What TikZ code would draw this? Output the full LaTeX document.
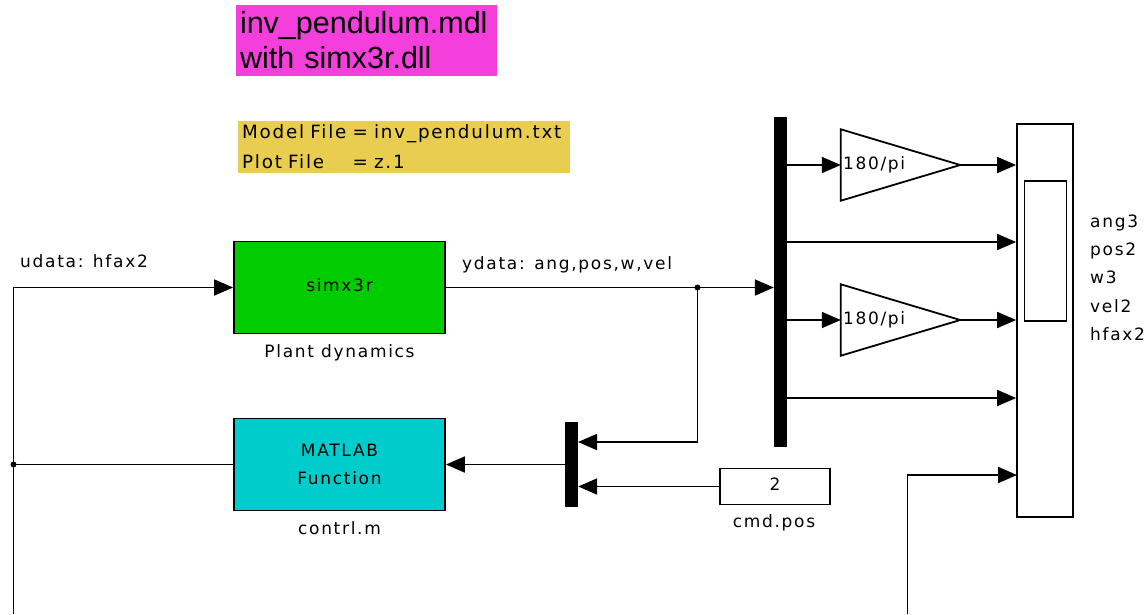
\documentclass[tikz,border=0pt]{standalone}
\usepackage{fontspec}
\usepackage{calc}
\usetikzlibrary{arrows.meta,calc}
\newfontfamily\blockfont{DejaVu Sans}[LetterSpace=10]
\newfontfamily\notefont{Liberation Sans}
\definecolor{notemagenta}{HTML}{F43FDD}
\definecolor{noteyellow}{HTML}{E8CD50}
\definecolor{plantgreen}{HTML}{00CC00}
\definecolor{fcncyan}{HTML}{00CCCC}
\begin{document}
\begin{tikzpicture}[x=1pt,y=-1pt,
  lbl/.style={font=\blockfont\fontsize{17}{21}\selectfont, inner sep=0pt, text height=12pt, text depth=3.5pt},
  block/.style={draw, line width=1.8pt, minimum width=211pt, minimum height=92pt, lbl},
  bar/.style={fill=black, minimum width=13pt, inner sep=0pt},
  dot/.style={circle, fill=black, inner sep=0pt, minimum size=6pt},
  wire/.style={line width=1.8pt},
  arr/.style={line width=1.8pt, -{Triangle[length=19pt,width=16pt]}}]
\useasboundingbox (0,0) rectangle (1147,614);

% annotation boxes
\node[fill=notemagenta, minimum width=261pt, minimum height=71pt, text width=253pt,
      align=left, inner sep=4pt, font=\notefont\fontsize{30.5}{35}\selectfont]
      (title) at (366.5,40.5) {inv\_pendulum.mdl\\with simx3r.dll};
\node[fill=noteyellow, minimum width=332pt, minimum height=52pt, text width=324pt,
      align=left, inner sep=4pt, font=\blockfont\fontsize{18.3}{30}\selectfont]
      (files) at (404,147) {Model File = inv\_pendulum.txt\\\makebox[\widthof{Model File\ }][l]{Plot File}= z.1};

% plant and controller
\node[block, fill=plantgreen] (plant) at (339.5,287.5) {simx3r};
\node[lbl] (plantname) at (339.5,353) {Plant dynamics};
\node[block, fill=fcncyan, align=center, font=\blockfont\fontsize{17}{28}\selectfont,
      text height=, text depth=] (fcn) at (339.5,464.5) {MATLAB\\Function};
\node[lbl] (fcnname) at (339.5,530) {contrl.m};

% mux, demux, constant
\node[bar, minimum height=85pt] (mux) at (571.5,464.5) {};
\node[bar, minimum height=330pt] (demux) at (780.5,282) {};
\node[draw, line width=1.8pt, minimum width=110pt, minimum height=36pt, lbl] (cmd) at (775,486.5) {2};
\node[lbl] (cmdname) at (774,523) {cmd.pos};

% gains
\node[minimum width=119pt, minimum height=71pt, inner sep=0pt] (g1) at (900.5,165) {};
\node[minimum width=119pt, minimum height=71pt, inner sep=0pt] (g2) at (900.5,320) {};
\foreach \g in {g1,g2}{
  \draw[wire, line join=miter] (\g.north west) -- (\g.east) -- (\g.south west) -- cycle;
  \node[lbl, anchor=west] at ($(\g.west)+(2,0)$) {180/pi};
}

% scope
\node[draw, line width=1.8pt, minimum width=56pt, minimum height=393pt, inner sep=0pt] (scope) at (1045,320.5) {};
\node[draw, line width=1.8pt, minimum width=42pt, minimum height=140pt, inner sep=0pt] (screen) at (1045.5,251) {};
\node[lbl, anchor=west] (s1) at (1090,223) {ang3};
\node[lbl, anchor=west] (s2) at (1090,251) {pos2};
\node[lbl, anchor=west] (s3) at (1090,279) {w3};
\node[lbl, anchor=west] (s4) at (1090,308) {vel2};
\node[lbl, anchor=west] (s5) at (1090,336) {hfax2};

% signal lines
\coordinate (ubot) at (13.5,614);
\draw[arr] (ubot) |- (plant.west);
\node[lbl, anchor=west] (ulabel) at (20,263) {udata: hfax2};
\node[dot] (j1) at (ubot |- fcn.west) {};
\draw[wire] (j1.center) -- (fcn.west);

\draw[arr] (plant.east) -- (plant.east -| demux.west);
\node[lbl, anchor=west] (ylabel) at (462,265) {ydata: ang,pos,w,vel};
\node[dot] (j2) at (697.5,287.5) {};
\coordinate (muxin1) at (578,442);
\draw[arr] (j2.center) |- (muxin1);
\draw[arr] (cmd.west) -- (cmd.west -| mux.east);
\draw[arr] (mux.west) -- (fcn.east);

\draw[arr] (g1.west -| demux.east) -- (g1.west);
\draw[arr] (g2.west -| demux.east) -- (g2.west);
\draw[arr] (g1.east) -- (g1.east -| scope.west);
\draw[arr] (g2.east) -- (g2.east -| scope.west);
\coordinate (d2) at (787,242);
\coordinate (d4) at (787,398);
\draw[arr] (d2) -- (d2 -| scope.west);
\draw[arr] (d4) -- (d4 -| scope.west);
\coordinate (hbot) at (907.5,614);
\coordinate (scin5) at (1017,475);
\draw[arr] (hbot) |- (scin5);
\end{tikzpicture}
\end{document}
